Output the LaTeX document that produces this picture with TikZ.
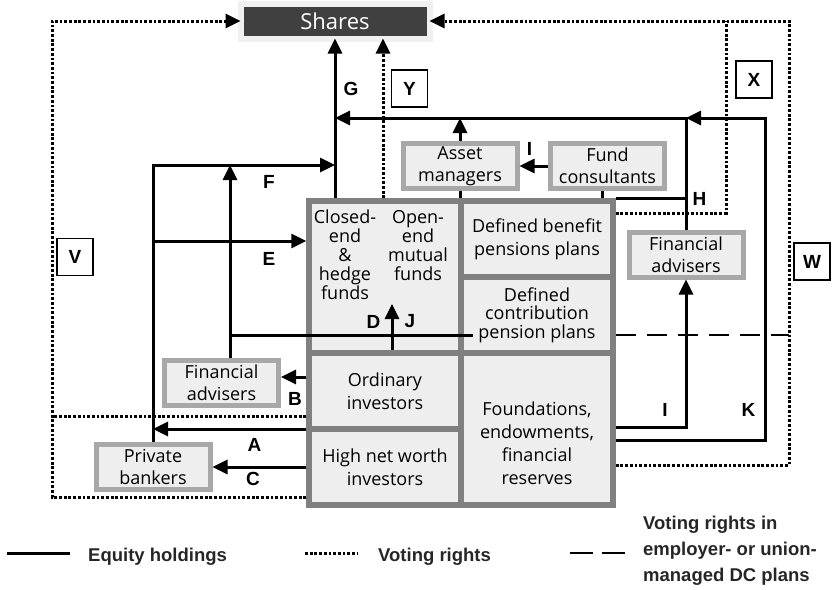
\documentclass[tikz,border=0pt]{standalone}
\usepackage{fontspec}
\setmainfont{Open Sans}
\newfontfamily\lettfont{Liberation Sans}
\usetikzlibrary{arrows.meta}
\definecolor{cellfill}{HTML}{EEEEEE}
\definecolor{cellline}{HTML}{808080}
\definecolor{boxline}{HTML}{A8A8A8}
\definecolor{sharesfill}{HTML}{404040}
\definecolor{sharesrim}{HTML}{F0F0F0}
\definecolor{legendtext}{HTML}{262626}

\begin{document}
\begin{tikzpicture}[x=1pt,y=-1pt,
    >={Triangle[length=15pt,width=14pt]},
    cell/.style={draw=cellline,fill=cellfill,line width=5.5pt,inner sep=0pt,
      minimum width=152pt,minimum height=#1,align=center,
      font=\fontsize{18}{23}\selectfont},
    cell/.default=76pt,
    box/.style={draw=boxline,fill=cellfill,line width=5pt,inner sep=0pt,
      minimum width=114pt,minimum height=45pt,align=center,
      font=\fontsize{18}{22}\selectfont},
    tag/.style={draw,line width=1.3pt,fill=white,inner sep=0pt,
      minimum width=36pt,minimum height=37pt,
      font=\lettfont\bfseries\fontsize{19}{19}\selectfont},
    lett/.style={inner sep=0pt,font=\lettfont\bfseries\fontsize{19}{19}\selectfont},
    legend/.style={inner sep=0pt,align=left,text=legendtext,
      font=\lettfont\bfseries\fontsize{18.5}{26}\selectfont},
    eq/.style={line width=3pt},
    vote/.style={line width=3pt,dash pattern=on 2.8pt off 1.9pt},
    dcplan/.style={line width=2.8pt,dash pattern=on 20pt off 11pt}]
    \useasboundingbox (0,0) rectangle (840,589);

    \node[draw=sharesrim,fill=sharesfill,line width=6pt,outer sep=0pt,
      minimum width=189pt,minimum height=35pt,text=white,
      font=\fontsize{22}{24}\selectfont] (shares) at (335,21) {Shares};

    \node[cell=152pt] (funds) at (385,277) {};
    \node[cell] (ord) at (385,391) {Ordinary\\investors};
    \node[cell] (hnw) at (385,467) {High net worth\\investors};
    \node[cell,font=\fontsize{18}{23}\selectfont] (db) at (537,239) {Defined benefit\\pensions plans};
    \node[cell,font=\fontsize{18}{18.5}\selectfont] (dc) at (537,315) {Defined\\contribution\\pension plans};
    \node[cell=152pt] (found) at (537,429) {};
    \node[align=center,inner sep=0pt,font=\fontsize{18}{23}\selectfont] (foundtxt) at (537,443)
      {Foundations,\\endowments,\\financial\\reserves};
    \node[anchor=north,align=center,inner sep=0pt,font=\fontsize{18}{19}\selectfont] (closed) at (345,210)
      {Closed-\\end\\\&\\hedge\\funds};
    \node[anchor=north,align=center,inner sep=0pt,font=\fontsize{18}{19}\selectfont] (open) at (418,210)
      {Open-\\end\\mutual\\funds};

    \node[box] (am) at (460,166) {Asset\\managers};
    \node[box] (fc) at (607.5,166) {Fund\\consultants};
    \node[box] (advR) at (686,254.5) {Financial\\advisers};
    \node[box] (advL) at (221.5,383) {Financial\\advisers};
    \node[box] (pb) at (153,467) {Private\\bankers};

    \node[tag] (tagV) at (75,257) {V};
    \node[tag] (tagY) at (409.5,88.5) {Y};
    \node[tag] (tagX) at (754,79.5) {X};
    \node[tag] (tagW) at (812,261.5) {W};

    \coordinate (gjoin) at (335,118);
    \coordinate (kcorner) at (765,118);
    \coordinate (klow) at (765,440);
    \coordinate (ilow) at (686,427);
    \coordinate (fjoin) at (335,165);
    \coordinate (dcjoin) at (230,335);
    \coordinate (dcend) at (473,335);
    \coordinate (elevel) at (153,241);
    \coordinate (djtip) at (392,304);
    \coordinate (blevel) at (281,377);
    \coordinate (alevel) at (153,429);
    \coordinate (ylevel) at (383,0);
    \coordinate (vcorner) at (52,21);
    \coordinate (vmid) at (52,416);
    \coordinate (vlow) at (52,497);
    \coordinate (xcorner) at (726,21);
    \coordinate (xlevel) at (726,213);
    \coordinate (wcorner) at (789,21);
    \coordinate (wlow) at (789,465);

    \draw[eq,->] (funds.north -| shares.south) -- (shares.south);
    \draw[eq,->] (advR.north) |- (gjoin);
    \draw[eq,->] (am.north) -- (am.north |- gjoin);
    \draw[eq] (am.south) -- (am.south |- funds.north);
    \draw[eq] ([xshift=-5pt]fc.south) -- ([xshift=-5pt]fc.south |- db.north);
    \draw[eq,->] (fc.west) -- (am.east);
    \draw[eq] (db.north east) -- (db.north east -| advR.north);
    \draw[eq,->] (found.east |- klow) -- (klow) -- (kcorner) -- (kcorner -| advR.north);
    \draw[eq,->] (found.east |- ilow) -| (advR.south);
    \draw[eq,->] (pb.north) |- (fjoin);
    \draw[eq,->] (advL.north -| dcjoin) -- (dcjoin |- fjoin);
    \draw[eq] (dcjoin) -- (dcend);
    \draw[dcplan] (dc.east |- dcend) -- (wcorner |- dcend);
    \draw[eq,->] (elevel) -- (funds.west |- elevel);
    \draw[eq,->] (ord.north -| djtip) -- (djtip);
    \draw[eq,->] (ord.west |- blevel) -- (blevel);
    \draw[eq,->] (hnw.west |- alevel) -- (alevel);
    \draw[eq,->] (hnw.west |- pb.east) -- (pb.east);

    \draw[vote,->] (funds.north -| ylevel) -- (shares.south -| ylevel);
    \draw[vote,->] (hnw.west |- vlow) -- (vlow) -- (vcorner) -- (shares.west);
    \draw[vote] (ord.west |- vmid) -- (vmid);
    \draw[vote,->] (found.east |- wlow) -- (wlow) -- (wcorner) -- (shares.east);
    \draw[vote] (db.east |- xlevel) -- (xlevel) -- (xcorner);

    \node[lett] (labG) at (351,88.5) {G};
    \node[lett] (labF) at (269,181.5) {F};
    \node[lett] (labE) at (269,258.5) {E};
    \node[lett] (labD) at (373.5,321.5) {D};
    \node[lett] (labJ) at (410,321.5) {J};
    \node[lett] (labB) at (295,398.5) {B};
    \node[lett] (labA) at (254.5,444.5) {A};
    \node[lett] (labC) at (253,478.5) {C};
    \node[lett] (labH) at (699.5,198.5) {H};
    \node[lett] (labI) at (529.5,148.5) {I};
    \node[lett] (labIb) at (665,410) {I};
    \node[lett] (labK) at (748.5,410) {K};

    \coordinate (leqa) at (7,553);
    \coordinate (leqb) at (70,553);
    \coordinate (lvoa) at (305,553);
    \coordinate (lvob) at (358,553);
    \coordinate (ldca) at (570,553);
    \coordinate (ldcb) at (625,553);
    \draw[eq] (leqa) -- (leqb);
    \draw[vote] (lvoa) -- (lvob);
    \draw[line width=2.8pt,dash pattern=on 23pt off 9pt] (ldca) -- (ldcb);
    \node[legend,anchor=base west] (legeq) at (88,561) {Equity holdings};
    \node[legend,anchor=base west] (legvo) at (378,561) {Voting rights};
    \node[legend,anchor=west] (legdc) at (643,551)
      {Voting rights in\\employer- or union-\\managed DC plans};
\end{tikzpicture}
\end{document}
